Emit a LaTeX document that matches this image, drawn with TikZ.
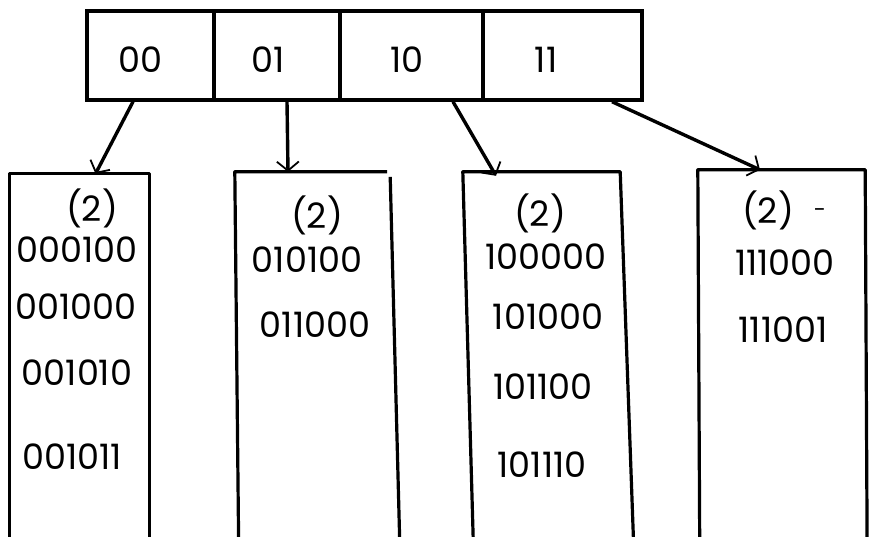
\documentclass[tikz,border=0pt]{standalone}
\usepackage{fontspec}
\setmainfont{Poppins}
\usetikzlibrary{arrows.meta,calc}
\tikzset{
  cell/.style={draw, line width=3.4pt, minimum height=89pt, inner sep=0pt},
  lbl/.style={font=\fontsize{35}{35}\selectfont, inner sep=0pt},
  bucketbox/.style={draw=none, inner sep=0pt},
  side/.style={line width=3.2pt, line join=round},
  ptr/.style={line width=3.4pt, -{Straight Barb[length=9pt,width=22pt,line width=1.8pt]}},
}
\begin{document}
\begin{tikzpicture}[x=1pt,y=-1pt]
\clip (0,0) rectangle (869,537);
\fill[white] (0,0) rectangle (869,537);
% directory
\node[cell, minimum width=127pt] (d00) at (150.5,55.5) {};
\node[cell, minimum width=126pt] (d01) at (277,55.5) {};
\node[cell, minimum width=143pt] (d10) at (411.5,55.5) {};
\node[cell, minimum width=159pt] (d11) at (562.5,55.5) {};
\node[lbl] (l00) at (140,60) {00};
\node[lbl] (l01) at (268,60) {01};
\node[lbl] (l10) at (407,60) {10};
\node[lbl] (l11) at (546,60) {11};
% buckets
\node[bucketbox, minimum width=139pt, minimum height=386pt] (b1) at (79.5,367) {};
\node[bucketbox, minimum width=155pt, minimum height=388pt] (b2) at (312.5,366) {};
\node[bucketbox, minimum width=157pt, minimum height=388pt] (b3) at (541.5,366) {};
\node[bucketbox, minimum width=167pt, minimum height=390pt] (b4) at (781.5,365) {};
\draw[side] (b1.south west) -- (b1.north west) -- (b1.north east) -- (b1.south east);
\draw[side] ([xshift=4pt]b2.south west) -- (b2.north west) -- ([xshift=-3pt]b2.north east);
\draw[side] ([yshift=-5pt]b2.north east) -- ([xshift=10pt]b2.south east);
\draw[side] ([xshift=11pt]b3.south west) -- (b3.north west) -- (b3.north east) -- ([xshift=14pt]b3.south east);
\draw[side] ([xshift=2pt]b4.south west) -- (b4.north west) -- (b4.north east) -- ([xshift=2pt]b4.south east);
% pointers
\draw[ptr] ([xshift=-17.5pt]d00.south) -- ([xshift=16pt]b1.north);
\draw[ptr] ([xshift=10pt]d01.south) -- ([xshift=-24.5pt]b2.north);
\draw[ptr] ([xshift=41.5pt]d10.south) -- ([xshift=-45.5pt,yshift=-4pt]b3.north);
\draw[ptr] ([xshift=49.5pt]d11.south) -- ([xshift=-21.5pt]b4.north);
% bucket contents
\node[lbl] (c1) at (92,208) {(2)};
\node[lbl] (r11) at (77,250) {000100};
\node[lbl] (r12) at (76,307) {001000};
\node[lbl] (r13) at (77,373) {001010};
\node[lbl] (r14) at (72,457) {001011};
\node[lbl] (c2) at (317,215) {(2)};
\node[lbl] (r21) at (307,260) {010100};
\node[lbl] (r22) at (315,325) {011000};
\node[lbl] (c3) at (540,213) {(2)};
\node[lbl] (r31) at (546,257) {100000};
\node[lbl] (r32) at (548,317) {101000};
\node[lbl] (r33) at (543,387) {101100};
\node[lbl] (r34) at (542,465) {101110};
\node[lbl] (c4) at (768,210) {(2)};
\node[lbl, font=\fontsize{22}{22}\selectfont] (d4) at (820,213) {-};
\node[lbl] (r41) at (785,263) {111000};
\node[lbl] (r42) at (783,330) {111001};
\end{tikzpicture}
\end{document}
